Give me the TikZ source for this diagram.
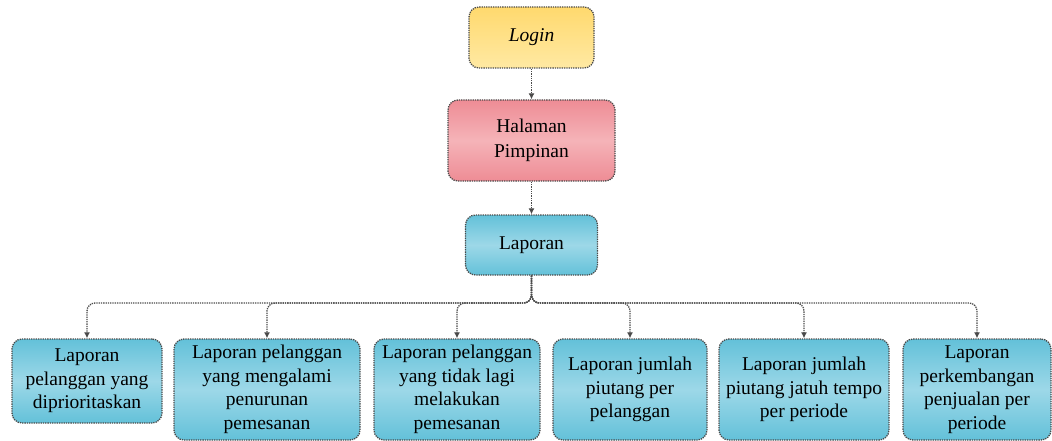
\documentclass[tikz,border=0pt]{standalone}
\usepackage{fontspec}
\setmainfont{Liberation Serif}
\usetikzlibrary{arrows.meta}

\definecolor{edgegray}{HTML}{4A4A4A}
\definecolor{yelA}{HTML}{FFD96E}
\definecolor{yelB}{HTML}{FFE9A3}
\definecolor{pinkA}{HTML}{EE8C95}
\definecolor{pinkB}{HTML}{F5B3B8}
\definecolor{blueA}{HTML}{63C1D9}
\definecolor{blueB}{HTML}{9DD8E8}

\tikzset{
  box/.style={draw=edgegray, line width=1.3pt, densely dotted, rounded corners=10pt,
    align=center, inner sep=2pt, font=\fontsize{19.5}{23.5}\selectfont},
  yellowbox/.style={box, top color=yelA, bottom color=yelB},
  pinkbox/.style={box, top color=pinkA, bottom color=pinkA, middle color=pinkB},
  bluebox/.style={box, top color=blueA, bottom color=blueA, middle color=blueB},
  link/.style={draw=edgegray, line width=1.3pt, densely dotted, rounded corners=8pt,
    -{Latex[length=6pt,width=6pt,fill=edgegray]}},
}

\begin{document}
\begin{tikzpicture}[x=1pt, y=-1pt]
  \useasboundingbox (0,0) rectangle (1052,441);

  % top chain
  \node[yellowbox, minimum width=125pt, minimum height=61pt] (login) at (531.5,37.5) {\itshape Login};
  \node[pinkbox, minimum width=167pt, minimum height=81pt, font=\fontsize{19.5}{25}\selectfont] (home) at (531.5,140.5) {Halaman\\Pimpinan};
  \node[bluebox, minimum width=132pt, minimum height=60pt] (lap) at (531.5,245) {Laporan};

  % report boxes
  \node[bluebox, minimum width=150pt, minimum height=84pt] (r1) at (87,381) {Laporan\\pelanggan yang\\diprioritaskan};
  \node[bluebox, minimum width=186pt, minimum height=101pt] (r2) at (267,389.5) {Laporan pelanggan\\yang mengalami\\penurunan\\pemesanan};
  \node[bluebox, minimum width=166pt, minimum height=101pt] (r3) at (457,389.5) {Laporan pelanggan\\yang tidak lagi\\melakukan\\pemesanan};
  \node[bluebox, minimum width=154pt, minimum height=101pt] (r4) at (630,389.5) {Laporan jumlah\\piutang per\\pelanggan};
  \node[bluebox, minimum width=170pt, minimum height=101pt] (r5) at (804,389.5) {Laporan jumlah\\piutang jatuh tempo\\per periode};
  \node[bluebox, minimum width=148pt, minimum height=101pt] (r6) at (977,389.5) {Laporan\\perkembangan\\penjualan per\\periode};

  \coordinate (bus) at (531.5,303);

  % connectors
  \draw[link] (login) -- (home);
  \draw[link] (home) -- (lap);
  \foreach \r in {r1,r2,r3,r4,r5,r6}
    \draw[link] (lap.south) |- (\r.north |- bus) -- (\r.north);
\end{tikzpicture}
\end{document}
